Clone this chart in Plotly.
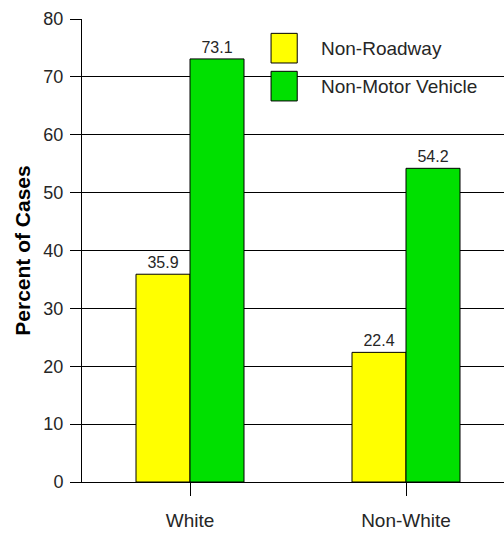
import plotly.graph_objects as go

# Chart data
categories = ["White", "Non-White"]
series_names = ["Non-Roadway", "Non-Motor Vehicle"]
non_roadway = [35.9, 22.4]
non_motor_vehicle = [73.1, 54.2]
y_ticks = [0, 10, 20, 30, 40, 50, 60, 70, 80]

colors = ["#ffff00", "#00e000"]
font_family = "Liberation Sans, Arial, sans-serif"
text_color = "#262626"

x_pos = list(range(len(categories)))

fig = go.Figure()
for name, values, color in zip(series_names, [non_roadway, non_motor_vehicle], colors):
    fig.add_trace(go.Bar(
        name=name,
        x=x_pos,
        y=values,
        marker=dict(color=color, line=dict(color="#000000", width=1)),
        text=[f"{v:.1f}" for v in values],
        textposition="outside",
        textfont=dict(family=font_family, size=16, color=text_color),
        cliponaxis=False,
        showlegend=False,
    ))

# Legend swatches and labels drawn in paper coordinates
legend_x0, legend_y = 0.448, [0.937, 0.855]
for name, color, yy in zip(series_names, colors, legend_y):
    fig.add_shape(type="rect", xref="paper", yref="paper",
                  x0=legend_x0, x1=legend_x0 + 0.062, y0=yy - 0.032, y1=yy + 0.032,
                  fillcolor=color, line=dict(color="#000000", width=1), layer="above")
    fig.add_annotation(xref="paper", yref="paper", x=0.562, y=yy,
                       text=name, showarrow=False, xanchor="left", yanchor="middle",
                       font=dict(family=font_family, size=19, color=text_color))

fig.update_layout(
    width=504, height=533,
    margin=dict(l=82, r=0, t=19, b=51),
    paper_bgcolor="white", plot_bgcolor="white",
    barmode="group", bargap=0.5, bargroupgap=0,
    font=dict(family=font_family, color=text_color),
)
fig.update_xaxes(
    range=[-0.5, 1.5 - 10 / 216],
    tickmode="array", tickvals=x_pos, ticktext=categories,
    tickfont=dict(size=19, color=text_color),
    ticks="outside", ticklen=13, tickcolor="#000000", tickwidth=1,
    ticklabelstandoff=8,
    showline=True, linecolor="#000000", linewidth=1,
    showgrid=False, zeroline=False,
)
fig.update_yaxes(
    range=[0, 80],
    tickmode="array", tickvals=y_ticks,
    tickfont=dict(size=18, color=text_color),
    ticks="outside", ticklen=11, tickcolor="#000000", tickwidth=1,
    ticklabelstandoff=3,
    showline=True, linecolor="#000000", linewidth=1,
    showgrid=True, gridcolor="#000000", gridwidth=1,
    zeroline=False,
    title=dict(text="<b>Percent of Cases</b>",
               font=dict(size=21, color="#000000"), standoff=7),
)

fig.write_html("out.html")
